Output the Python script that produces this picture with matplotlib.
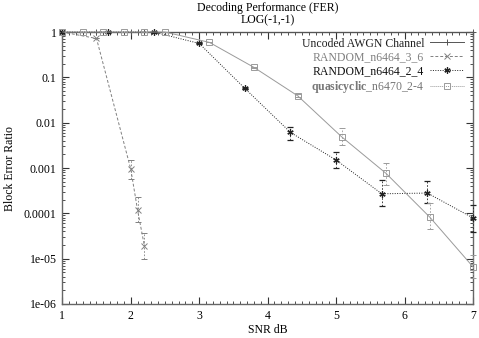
import matplotlib
matplotlib.use("Agg")
import matplotlib.pyplot as plt
from matplotlib.lines import Line2D
import numpy as np

plt.rcParams['font.family'] = ['Liberation Serif', 'DejaVu Serif']
plt.rcParams['mathtext.fontset'] = 'custom'
plt.rcParams['mathtext.bf'] = 'Liberation Serif:bold'
plt.rcParams['mathtext.rm'] = 'Liberation Serif'

# ---- data ----
unc_x = [1.0, 1.5, 2.0, 2.1, 2.2, 7.0]
unc_y = [1.0, 1.0, 1.0, 1.0, 1.0, 1.0]

r36_x = [1.0, 1.5, 2.0, 2.1, 2.2]
r36_y = [1.0, 0.72, 0.00095, 0.000118, 1.9e-5]
r36_lo = [1.0, 0.72, 0.00057, 6.4e-5, 1.0e-5]
r36_hi = [1.0, 0.72, 0.0015, 0.00023, 3.6e-5]

r24_x = [1.0, 1.667, 2.333, 3.0, 3.667, 4.333, 5.0, 5.667, 6.333, 7.0]
r24_y = [1.0, 1.0, 1.0, 0.56, 0.057, 0.0061, 0.0015, 0.00027, 0.00028, 7.9e-5]
r24_lo = [1.0, 1.0, 1.0, 0.56, 0.055, 0.0041, 0.00098, 0.000145, 0.000165, 3.9e-5]
r24_hi = [1.0, 1.0, 1.0, 0.56, 0.059, 0.0081, 0.0023, 0.00054, 0.00052, 0.00015]

qc_x = [1.0, 1.3, 1.6, 1.9, 2.2, 2.5, 3.15, 3.8, 4.44, 5.08, 5.73, 6.37, 7.0]
qc_y = [1.0, 1.0, 1.0, 1.0, 1.0, 1.0, 0.59, 0.166, 0.039, 0.0049, 0.00076, 8.2e-5, 6.6e-6]
qc_lo = [1.0, 1.0, 1.0, 1.0, 1.0, 1.0, 0.59, 0.16, 0.036, 0.0032, 0.00042, 4.4e-5, 3.7e-6]
qc_hi = [1.0, 1.0, 1.0, 1.0, 1.0, 1.0, 0.59, 0.172, 0.043, 0.0075, 0.0013, 0.000165, 1.2e-5]

ytick_vals = [1, 0.1, 0.01, 0.001, 0.0001, 1e-05, 1e-06]
ytick_labels = ["1", "0.1", "0.01", "0.001", "0.0001", "1e-05", "1e-06"]
xtick_vals = [1, 2, 3, 4, 5, 6, 7]

labels = ["Uncoded AWGN Channel", "RANDOM_n6464_3_6", "RANDOM_n6464_2_4",
          r"$\mathbf{quasicyclic}$_n6470_2-4"]

# ---- figure ----
fig = plt.figure(figsize=(4.79, 3.38), dpi=100)
ax = fig.add_axes([0.130, 0.1006, 0.8575, 0.8047])
ax.set_yscale('log')
ax.set_xlim(1, 7)
ax.set_ylim(1e-6, 1)

c_unc = '#555555'
c_36 = '#808080'
c_24 = '#222222'
c_qc = '#9a9a9a'

ls_unc = '-'
ls_36 = (0, (3, 2))
ls_24 = (0, (1, 1.5))
ls_qc = (0, (6, 0.01))

def errs(y, lo, hi):
    y = np.array(y); lo = np.array(lo); hi = np.array(hi)
    return np.vstack([y - lo, hi - y])

ax.plot(unc_x, unc_y, color=c_unc, lw=0.7, ls=ls_unc, marker='+', ms=5, mew=0.7,
        clip_on=False, zorder=3)

def eplot(x, y, lo, hi, color, ls, marker, ms, mew=0.7):
    line = ax.errorbar(x, y, yerr=errs(y, lo, hi), color=color, ls=ls, lw=0.7,
                       marker=marker, ms=ms, mfc='none', mew=mew, capsize=2,
                       elinewidth=0.6, capthick=0.6, clip_on=False, zorder=3)
    for lc in line[2]:
        lc.set_linestyle((0, (2, 2)))
    return line

eplot(r36_x, r36_y, r36_lo, r36_hi, c_36, ls_36, 'x', 4)
eplot(r24_x, r24_y, r24_lo, r24_hi, c_24, ls_24, (6, 2, 0), 4.5, mew=0.9)
eplot(qc_x, qc_y, qc_lo, qc_hi, c_qc, ls_qc, 's', 4.5)

# axes styling (gnuplot look)
for s in ax.spines.values():
    s.set_color('#666666')
    s.set_linewidth(1.0)
ax.set_yticks(ytick_vals)
ax.set_yticklabels(ytick_labels)
ax.set_xticks(xtick_vals)
ax.set_xticklabels([str(v) for v in xtick_vals])
ax.xaxis.set_minor_locator(matplotlib.ticker.MultipleLocator(0.1))
ax.yaxis.set_minor_locator(matplotlib.ticker.LogLocator(base=10, subs=np.arange(2, 10)))
ax.yaxis.set_minor_formatter(matplotlib.ticker.NullFormatter())
ax.tick_params(which='both', direction='in', top=True, right=True,
               labelsize=8.5, colors='#333333', labelcolor='black')
ax.tick_params(which='major', length=5, width=0.8, pad=4)
ax.tick_params(which='minor', length=2.5, width=0.6)

ax.set_xlabel("SNR dB", fontsize=8.5, labelpad=2)
ax.set_ylabel("Block Error Ratio", fontsize=8.5, labelpad=6)
fig.text(0.558, 0.976, "Decoding Performance (FER)", ha='center', va='center', fontsize=8.5)
fig.text(0.558, 0.940, "LOG(-1,-1)", ha='center', va='center', fontsize=8.5)

handles = [
    Line2D([], [], color=c_unc, ls=ls_unc, lw=0.7, marker='+', ms=5, mew=0.7),
    Line2D([], [], color=c_36, ls=ls_36, lw=0.7, marker='x', ms=4, mew=0.7),
    Line2D([], [], color=c_24, ls=ls_24, lw=0.7, marker=(6, 2, 0), ms=4.5, mew=0.9),
    Line2D([], [], color=c_qc, ls=(0, (1, 1)), lw=0.7, marker='s', ms=4.5, mew=0.7, mfc='none'),
]
leg = ax.legend(handles, labels, loc='upper right', bbox_to_anchor=(0.99, 0.997),
                frameon=False, markerfirst=False, fontsize=8.5, handlelength=2.9,
                handletextpad=0.5, labelspacing=0.15, borderaxespad=0.0)
txt_colors = ['#222222', '#808080', '#111111', '#777777']
for t, c in zip(leg.get_texts(), txt_colors):
    t.set_color(c)

fig.savefig("out.png", dpi=100)
